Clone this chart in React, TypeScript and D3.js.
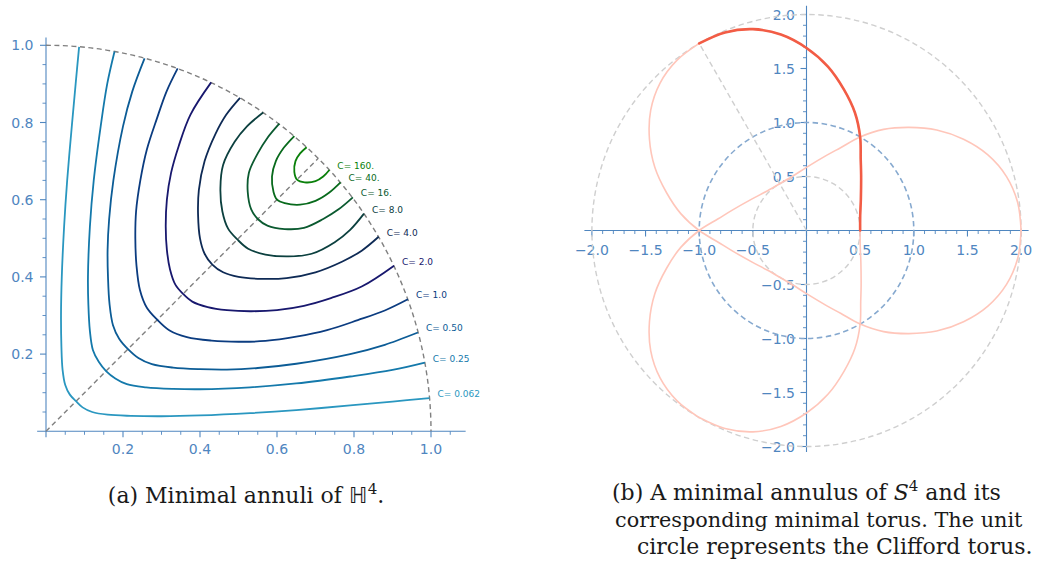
import React from 'react';
import * as d3 from 'd3';

const W = 1038;
const H = 570;

// ---------- Left panel: minimal annuli of H^4 (lower half of each curve, mirrored about y = x) ----------
const curveLabels = ['C= 0.062', 'C= 0.25', 'C= 0.50', 'C= 1.0', 'C= 2.0', 'C= 4.0', 'C= 8.0', 'C= 16.', 'C= 40.', 'C= 160.'];
const annulus0062 = [[0.078, 0.078], [0.095, 0.062], [0.12, 0.05], [0.16, 0.043], [0.22, 0.04], [0.3, 0.039], [0.4, 0.041], [0.53, 0.047], [0.65, 0.055], [0.79, 0.067], [0.9, 0.077], [0.996, 0.086]];
const annulus025 = [[0.156, 0.156], [0.18, 0.137], [0.21, 0.122], [0.26, 0.114], [0.33, 0.11], [0.4, 0.109], [0.53, 0.114], [0.65, 0.124], [0.79, 0.142], [0.9, 0.159], [0.984, 0.178]];
const annulus050 = [[0.213, 0.213], [0.24, 0.19], [0.275, 0.174], [0.33, 0.165], [0.4, 0.161], [0.47, 0.16], [0.55, 0.164], [0.65, 0.175], [0.79, 0.2], [0.88, 0.224], [0.966, 0.256]];
const annulus1 = [[0.289, 0.289], [0.32, 0.262], [0.366, 0.244], [0.43, 0.235], [0.5, 0.232], [0.57, 0.234], [0.65, 0.245], [0.73, 0.262], [0.81, 0.288], [0.88, 0.313], [0.94, 0.342]];
const annulus2 = [[0.356, 0.356], [0.38, 0.336], [0.42, 0.322], [0.47, 0.314], [0.53, 0.311], [0.6, 0.314], [0.67, 0.325], [0.74, 0.345], [0.82, 0.375], [0.904, 0.429]];
const annulus4 = [[0.432, 0.432], [0.46, 0.412], [0.5, 0.4], [0.56, 0.395], [0.625, 0.397], [0.7, 0.412], [0.77, 0.44], [0.82, 0.468], [0.864, 0.504]];
const annulus8 = [[0.497, 0.497], [0.525, 0.473], [0.57, 0.458], [0.63, 0.453], [0.69, 0.46], [0.75, 0.49], [0.79, 0.522], [0.826, 0.564]];
const annulus16 = [[0.55, 0.55], [0.575, 0.533], [0.62, 0.524], [0.67, 0.527], [0.72, 0.55], [0.76, 0.575], [0.797, 0.606]];
const annulus40 = [[0.6, 0.6], [0.62, 0.591], [0.66, 0.587], [0.7, 0.597], [0.735, 0.618], [0.765, 0.645]];
const annulus160 = [[0.652, 0.652], [0.672, 0.645], [0.7, 0.648], [0.72, 0.66], [0.736, 0.677]];
const annuliHalves = [annulus0062, annulus025, annulus050, annulus1, annulus2, annulus4, annulus8, annulus16, annulus40, annulus160];

const leftMajorTicks = [0.2, 0.4, 0.6, 0.8, 1.0];
const leftTickLabels = ['0.2', '0.4', '0.6', '0.8', '1.0'];

// ---------- Right panel: minimal annulus of S^4 (fundamental arc in polar form, 0..120 deg) ----------
const arcAnglesDeg = [0, 15, 30, 45, 52.5, 60, 67.5, 75, 82.5, 90, 97.5, 105, 112.5, 120];
const arcRadii = [0.5, 0.518, 0.585, 0.72, 0.83, 1.0, 1.18, 1.35, 1.53, 1.69, 1.83, 1.93, 1.985, 2.0];
const greyCircleRadii = [0.5, 2.0];
const cliffordRadius = 1.0;
const rightMajorTicks = [-2, -1.5, -1, -0.5, 0.5, 1, 1.5, 2];
const rightTickLabels = ['\u22122.0', '\u22121.5', '\u22121.0', '\u22120.5', '0.5', '1.0', '1.5', '2.0'];

// ---------- styles ----------
const curveColors = ['#2a97c0', '#1479ab', '#0c5c96', '#0b3c80', '#18186e', '#0e2a55', '#0c403f', '#0b5a30', '#086a1c', '#0a800a'];
const AX = '#4f86bf';
const FONT = 'DejaVu Sans, sans-serif';

export default function App() {
  const xL = d3.scaleLinear().domain([0, 1]).range([46, 431]);
  const yL = d3.scaleLinear().domain([0, 1]).range([431.3, 45.3]);
  const xR = d3.scaleLinear().domain([-2, 2]).range([591.9, 1021.1]);
  const yR = d3.scaleLinear().domain([-2, 2]).range([446.5, 14.5]);

  const lineL = d3.line<number[]>().x(d => xL(d[0])).y(d => yL(d[1])).curve(d3.curveCatmullRom.alpha(0.5));
  const lineR = d3.line<number[]>().x(d => xR(d[0])).y(d => yR(d[1])).curve(d3.curveCatmullRom.alpha(0.5));

  const fullCurves = annuliHalves.map(half => {
    const upper = half.slice(1).reverse().map(([x, y]) => [y, x]);
    return [...upper, ...half];
  });

  const leftMinor = d3.range(0.05, 1.06, 0.05).filter(v => Math.abs(Math.round(v * 5) - v * 5) > 1e-6);
  const leftMinorY = leftMinor.filter(v => v <= 1.001);
  const rightAll = d3.range(-20, 21).map(i => i / 10);
  const rightMinor = rightAll.filter(v => Math.abs(Math.round(v * 2) - v * 2) > 1e-6);
  const rightMajorAll = [...rightMajorTicks, 0];

  const deg = Math.PI / 180;
  const annulusArc = arcAnglesDeg.map((a, i) => [arcRadii[i] * Math.cos(a * deg), arcRadii[i] * Math.sin(a * deg)]);
  const rot = (a: number) => (p: number[]) => [p[0] * Math.cos(a) - p[1] * Math.sin(a), p[0] * Math.sin(a) + p[1] * Math.cos(a)];
  const refl = (a: number) => (p: number[]) => [p[0] * Math.cos(2 * a) + p[1] * Math.sin(2 * a), p[0] * Math.sin(2 * a) - p[1] * Math.cos(2 * a)];
  const group = [rot(0), rot(120 * deg), rot(240 * deg), refl(0), refl(60 * deg), refl(120 * deg)];
  const copies = group.map(g => annulusArc.map(g));
  const arcEnd = annulusArc[annulusArc.length - 1];

  const ellipse = (r: number) => ({ cx: xR(0), cy: yR(0), rx: xR(r) - xR(0), ry: yR(0) - yR(r) });

  return (
    <svg width={W} height={H} style={{ position: 'absolute', left: 0, top: 0, background: '#fff' }} fontFamily={FONT}>
      {/* ===== Left panel ===== */}
      <g>
        <line x1={xL(-0.023)} x2={xL(1.09)} y1={yL(0)} y2={yL(0)} stroke={AX} strokeWidth={1.1} />
        <line x1={xL(0)} x2={xL(0)} y1={yL(0)} y2={yL(1.02)} stroke={AX} strokeWidth={1.1} />
        {[0, ...leftMajorTicks].map(v => (
          <line key={'xm' + v} x1={xL(v)} x2={xL(v)} y1={yL(0)} y2={yL(0) + 6} stroke={AX} strokeWidth={1.1} />
        ))}
        {leftMinor.map(v => (
          <line key={'xn' + v} x1={xL(v)} x2={xL(v)} y1={yL(0)} y2={yL(0) + 3.5} stroke={AX} strokeWidth={0.9} />
        ))}
        {leftMajorTicks.map(v => (
          <line key={'ym' + v} x1={xL(0) - 6} x2={xL(0)} y1={yL(v)} y2={yL(v)} stroke={AX} strokeWidth={1.1} />
        ))}
        {leftMinorY.map(v => (
          <line key={'yn' + v} x1={xL(0) - 3.5} x2={xL(0)} y1={yL(v)} y2={yL(v)} stroke={AX} strokeWidth={0.9} />
        ))}
        {leftMajorTicks.map((v, i) => (
          <text key={'xl' + v} x={xL(v)} y={454} textAnchor="middle" fontSize={14} fill={AX}>{leftTickLabels[i]}</text>
        ))}
        {leftMajorTicks.map((v, i) => (
          <text key={'yl' + v} x={33.5} y={yL(v)} textAnchor="end" dominantBaseline="central" fontSize={14} fill={AX}>{leftTickLabels[i]}</text>
        ))}
        <path d={`M${xL(0)},${yL(1)} A${xL(1) - xL(0)},${yL(0) - yL(1)} 0 0 1 ${xL(1)},${yL(0)}`} fill="none" stroke="#808080" strokeWidth={1.4} strokeDasharray="5,3.5" />
        <line x1={xL(0)} y1={yL(0)} x2={xL(Math.SQRT1_2)} y2={yL(Math.SQRT1_2)} stroke="#808080" strokeWidth={1.4} strokeDasharray="5,3.5" />
        {fullCurves.map((c, i) => (
          <path key={'c' + i} d={lineL(c) as string} fill="none" stroke={curveColors[i]} strokeWidth={1.8} />
        ))}
        {annuliHalves.map((half, i) => {
          const e = half[half.length - 1];
          return (
            <text key={'cl' + i} x={xL(e[0]) + 8} y={yL(e[1]) - 4} dominantBaseline="central" fontSize={9} fill={curveColors[i]}>{curveLabels[i]}</text>
          );
        })}
      </g>

      {/* ===== Right panel ===== */}
      <g>
        <line x1={xR(-2.07)} x2={xR(2.07)} y1={yR(0)} y2={yR(0)} stroke={AX} strokeWidth={1.1} />
        <line x1={xR(0)} x2={xR(0)} y1={yR(-2.05)} y2={yR(2.08)} stroke={AX} strokeWidth={1.1} />
        {rightMajorAll.map(v => (
          <line key={'rxm' + v} x1={xR(v)} x2={xR(v)} y1={yR(0)} y2={yR(0) + 6} stroke={AX} strokeWidth={1.1} />
        ))}
        {rightMinor.map(v => (
          <line key={'rxn' + v} x1={xR(v)} x2={xR(v)} y1={yR(0)} y2={yR(0) + 3.5} stroke={AX} strokeWidth={0.9} />
        ))}
        {rightMajorAll.map(v => (
          <line key={'rym' + v} x1={xR(0) - 6} x2={xR(0)} y1={yR(v)} y2={yR(v)} stroke={AX} strokeWidth={1.1} />
        ))}
        {rightMinor.map(v => (
          <line key={'ryn' + v} x1={xR(0) - 3.5} x2={xR(0)} y1={yR(v)} y2={yR(v)} stroke={AX} strokeWidth={0.9} />
        ))}
        {rightMajorTicks.map((v, i) => (
          <text key={'rxl' + v} x={xR(v)} y={255} textAnchor="middle" fontSize={14} fill={AX}>{rightTickLabels[i]}</text>
        ))}
        {rightMajorTicks.map((v, i) => (
          <text key={'ryl' + v} x={795} y={yR(v)} textAnchor="end" dominantBaseline="central" fontSize={14} fill={AX}>{rightTickLabels[i]}</text>
        ))}
        {greyCircleRadii.map(r => {
          const e = ellipse(r);
          return <ellipse key={'gc' + r} {...e} fill="none" stroke="#cfcfcf" strokeWidth={1.4} strokeDasharray="5.5,3.5" />;
        })}
        <ellipse {...ellipse(cliffordRadius)} fill="none" stroke="#86a9cf" strokeWidth={1.6} strokeDasharray="5.5,3.5" />
        <line x1={xR(0)} y1={yR(0)} x2={xR(arcEnd[0])} y2={yR(arcEnd[1])} stroke="#cfcfcf" strokeWidth={1.4} strokeDasharray="5.5,3.5" />
        {copies.map((c, i) => (
          <path key={'lc' + i} d={lineR(c) as string} fill="none" stroke="#ffc6ba" strokeWidth={1.6} strokeLinecap="round" />
        ))}
        <path d={lineR(annulusArc) as string} fill="none" stroke="#f25c45" strokeWidth={2.6} strokeLinecap="round" />
      </g>

      {/* ===== Captions ===== */}
      <g fontFamily="DejaVu Serif, serif" fill="#1a1a1a" fontSize={22}>
        <text x={246} y={503} textAnchor="middle">
          (a) Minimal annuli of <tspan fontFamily="DejaVu Sans">{'\u210D'}</tspan><tspan dy={-9} fontSize={15}>4</tspan><tspan dy={9}>.</tspan>
        </text>
        <text x={612} y={500}>
          (b) A minimal annulus of <tspan fontStyle="italic">S</tspan><tspan dy={-9} fontSize={15}>4</tspan><tspan dy={9}> and its</tspan>
        </text>
        <text x={615} y={527} fontSize={20.8}>corresponding minimal torus. The unit</text>
        <text x={637} y={554}>circle represents the Clifford torus.</text>
      </g>
    </svg>
  );
}
